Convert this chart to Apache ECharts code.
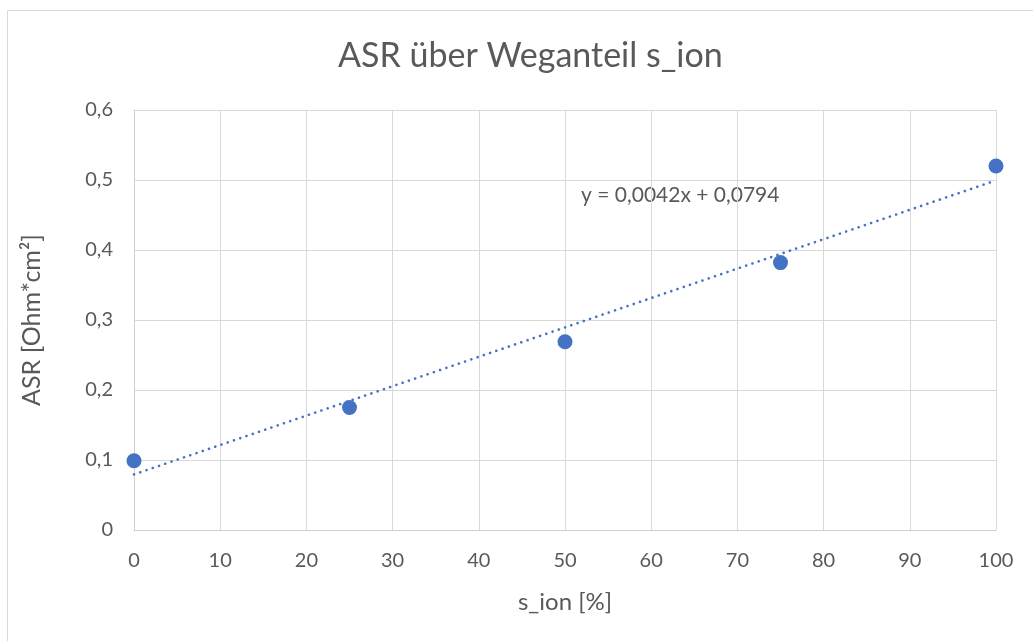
<!DOCTYPE html>
<html>
<head>
<meta charset="utf-8">
<script src="https://cdn.jsdelivr.net/npm/echarts@6/dist/echarts.min.js"></script>
<style>
html,body{margin:0;padding:0;background:#fff;}
#c{width:1033px;height:641px;}
</style>
</head>
<body>
<div id="c"></div>
<script>
// Data
const sIon = [0, 25, 50, 75, 100];
const asr = [0.099, 0.175, 0.269, 0.382, 0.520];
// Linear trendline coefficients as printed on the chart
const trendSlope = [0.0042];
const trendIntercept = [0.0794];
const trendX = [0, 100];
const titleText = 'ASR über Weganteil s_ion';
const xName = 's_ion [%]';
const yName = 'ASR [Ohm*cm²]';
const eqText = 'y = 0,0042x + 0,0794';

const FONT = 'Lato, "Open Sans", sans-serif';
const TXT = '#595959';

const points = sIon.map((x, i) => [x, asr[i]]);
const trend = trendX.map(x => [x, trendSlope[0] * x + trendIntercept[0]]);

const chart = echarts.init(document.getElementById('c'), null, {renderer: 'canvas'});
chart.setOption({
  animation: false,
  backgroundColor: '#fff',
  title: {
    text: titleText, left: 333, top: 34,
    textStyle: {fontFamily: FONT, fontSize: 34, fontWeight: 'normal', color: TXT}
  },
  grid: {left: 134, right: 37, top: 110, bottom: 111},
  xAxis: {
    type: 'value', min: 0, max: 100, interval: 10,
    name: xName, nameLocation: 'middle', nameGap: 60,
    nameTextStyle: {fontFamily: FONT, fontSize: 24, color: TXT},
    axisLine: {show: true, lineStyle: {color: '#d0d0d0', width: 1}},
    axisTick: {show: false},
    axisLabel: {fontFamily: FONT, fontSize: 20, color: TXT, margin: 21},
    splitLine: {show: true, lineStyle: {color: '#d9d9d9', width: 1}}
  },
  yAxis: {
    type: 'value', min: 0, max: 0.6, interval: 0.1,
    name: yName, nameLocation: 'middle', nameGap: 90, nameRotate: 90,
    nameTextStyle: {fontFamily: FONT, fontSize: 25, color: TXT},
    axisLine: {show: true, lineStyle: {color: '#d0d0d0', width: 1}},
    axisTick: {show: false},
    axisLabel: {fontFamily: FONT, fontSize: 20, color: TXT, margin: 21,
      formatter: v => (Math.round(v * 10) / 10).toString().replace('.', ',')},
    splitLine: {show: true, lineStyle: {color: '#d9d9d9', width: 1}}
  },
  graphic: [
    {type: 'line', shape: {x1: 7.5, y1: 10.5, x2: 1033, y2: 10.5}, style: {stroke: '#d9d9d9', lineWidth: 1}},
    {type: 'line', shape: {x1: 7.5, y1: 10.5, x2: 7.5, y2: 641}, style: {stroke: '#d9d9d9', lineWidth: 1}},
    {type: 'text', left: 581, top: 185, style: {text: eqText, fontFamily: FONT, fontSize: 21, fill: '#595959'}}
  ],
  series: [
    {
      type: 'line', data: trend, symbol: 'none', silent: true,
      lineStyle: {color: '#4472C4', width: 2.6, type: [0.1, 6.5], cap: 'round'},
      z: 2
    },
    {
      type: 'scatter', data: points, symbol: 'circle', symbolSize: 15,
      itemStyle: {color: '#4472C4', opacity: 1}, z: 3
    }
  ]
});
</script>
</body>
</html>
